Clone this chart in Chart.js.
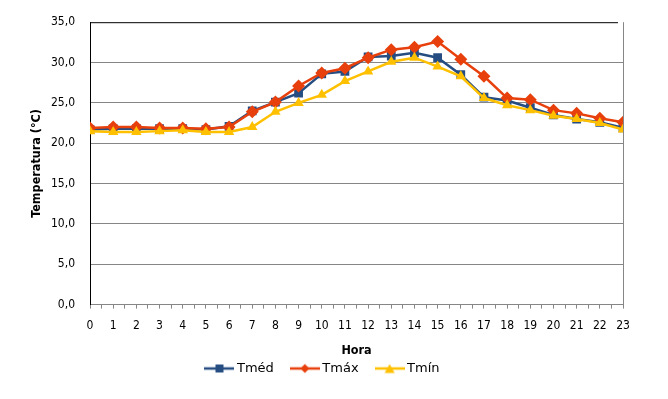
<!DOCTYPE html>
<html>
<head>
<meta charset="utf-8">
<script src="https://cdn.jsdelivr.net/npm/chart.js@4"></script>
<style>
  html, body { margin: 0; padding: 0; background: #fff; }
  #wrap { width: 668px; height: 399px; }
</style>
</head>
<body>
<div id="wrap"><canvas id="tempChart" width="668" height="399"></canvas></div>
<script>
const horas = [0,1,2,3,4,5,6,7,8,9,10,11,12,13,14,15,16,17,18,19,20,21,22,23];
const tMed = [21.7,21.8,21.8,21.8,21.8,21.7,22.1,24.0,25.1,26.2,28.6,28.9,30.7,30.8,31.2,30.6,28.5,25.7,25.3,24.4,23.5,23.0,22.6,21.9];
const tMax = [21.9,22.0,22.0,21.9,21.9,21.8,22.0,23.9,25.1,27.1,28.7,29.3,30.6,31.6,31.9,32.6,30.4,28.3,25.6,25.4,24.1,23.7,23.1,22.6];
const tMin = [21.5,21.4,21.4,21.5,21.6,21.4,21.4,22.0,23.9,25.0,26.0,27.7,28.9,30.1,30.6,29.5,28.3,25.6,24.7,24.1,23.4,23.0,22.5,21.7];

const FONT = "'DejaVu Sans Condensed', 'DejaVu Sans', sans-serif";
const LEGEND_FONT = "'DejaVu Sans', sans-serif";
const COL_MED = '#254D82';
const COL_MAX = '#E8400C';
const COL_MIN = '#FFC000';

function pts(arr) {
  return horas.map((h, i) => ({ x: h, y: arr[i] }));
}

// small line+marker swatch for the legend
function swatch(color, style) {
  const c = document.createElement('canvas');
  c.width = 30; c.height = 12;
  const g = c.getContext('2d');
  g.strokeStyle = color; g.lineWidth = 2.5;
  g.beginPath(); g.moveTo(0, 6); g.lineTo(30, 6); g.stroke();
  g.fillStyle = color;
  g.beginPath();
  if (style === 'rect') {
    g.rect(11, 2, 8, 8);
  } else if (style === 'rectRot') {
    g.moveTo(15, 1.5); g.lineTo(19.5, 6); g.lineTo(15, 10.5); g.lineTo(10.5, 6); g.closePath();
  } else {
    g.moveTo(15, 1.5); g.lineTo(20, 10.5); g.lineTo(10, 10.5); g.closePath();
  }
  g.fill();
  return c;
}

const frame = {
  id: 'frame',
  beforeDatasetsDraw(chart) {
    const a = chart.chartArea, g = chart.ctx;
    g.save();
    g.lineWidth = 1;
    g.strokeStyle = '#000';
    g.beginPath(); g.moveTo(a.left, a.top + 0.5); g.lineTo(a.right - 5, a.top + 0.5); g.stroke();
    g.strokeStyle = '#868686';
    g.beginPath(); g.moveTo(a.right + 0.5, a.top); g.lineTo(a.right + 0.5, a.bottom); g.stroke();
    g.restore();
  }
};

new Chart(document.getElementById('tempChart'), {
  type: 'line',
  data: {
    datasets: [{
      label: 'Tméd',
      data: pts(tMed),
      borderColor: COL_MED, backgroundColor: COL_MED,
      pointStyle: 'rect', pointRadius: 6.2, pointBorderWidth: 0, borderWidth: 2.5,
      order: 3
    }, {
      label: 'Tmáx',
      data: pts(tMax),
      borderColor: COL_MAX, backgroundColor: COL_MAX,
      pointStyle: 'rectRot', pointRadius: 6.5, pointBorderWidth: 0, borderWidth: 2.5,
      order: 2
    }, {
      label: 'Tmín',
      data: pts(tMin),
      borderColor: COL_MIN, backgroundColor: COL_MIN,
      pointStyle: 'triangle', pointRadius: 6, pointBorderWidth: 0, borderWidth: 2.5,
      order: 1
    }]
  },
  options: {
    responsive: false,
    animation: false,
    layout: { padding: { left: 25, right: 45, top: 19, bottom: 14 } },
    plugins: {
      tooltip: { enabled: false },
      legend: {
        position: 'bottom',
        labels: {
          font: { family: LEGEND_FONT, size: 13 },
          color: '#000',
          usePointStyle: true,
          pointStyleWidth: 22,
          boxHeight: 12,
          padding: 20,
          sort: (a, b) => a.datasetIndex - b.datasetIndex,
          generateLabels(chart) {
            return chart.data.datasets.map((ds, i) => ({
              text: ds.label,
              datasetIndex: i,
              pointStyle: swatch(ds.borderColor, ds.pointStyle),
              fillStyle: ds.borderColor,
              strokeStyle: ds.borderColor,
              lineWidth: 0,
              fontColor: '#000'
            }));
          }
        }
      }
    },
    scales: {
      x: {
        type: 'linear',
        min: 0, max: 23,
        border: { color: '#868686' },
        grid: { drawOnChartArea: false, color: '#868686', tickLength: 4 },
        ticks: {
          stepSize: 0.5, autoSkip: false, maxRotation: 0, padding: 10,
          font: { family: FONT, size: 12 }, color: '#000',
          callback: v => Number.isInteger(v) ? String(v) : ''
        },
        title: { display: true, text: 'Hora', font: { family: FONT, size: 12.5, weight: 'bold' }, color: '#000', padding: { top: 0, bottom: -16 } }
      },
      y: {
        min: 0, max: 35,
        border: { color: '#000' },
        grid: { color: ctx => ctx.tick && ctx.tick.value === 35 ? 'rgba(0,0,0,0)' : '#868686', tickLength: 0, drawTicks: false },
        ticks: {
          stepSize: 5, padding: 15,
          font: { family: FONT, size: 12 }, color: '#000',
          callback: v => v.toFixed(1).replace('.', ',')
        },
        title: { display: true, text: 'Temperatura (°C)', font: { family: FONT, size: 12.5, weight: 'bold' }, color: '#000', padding: { top: 4, bottom: -8 } }
      }
    }
  },
  plugins: [frame]
});
</script>
</body>
</html>
